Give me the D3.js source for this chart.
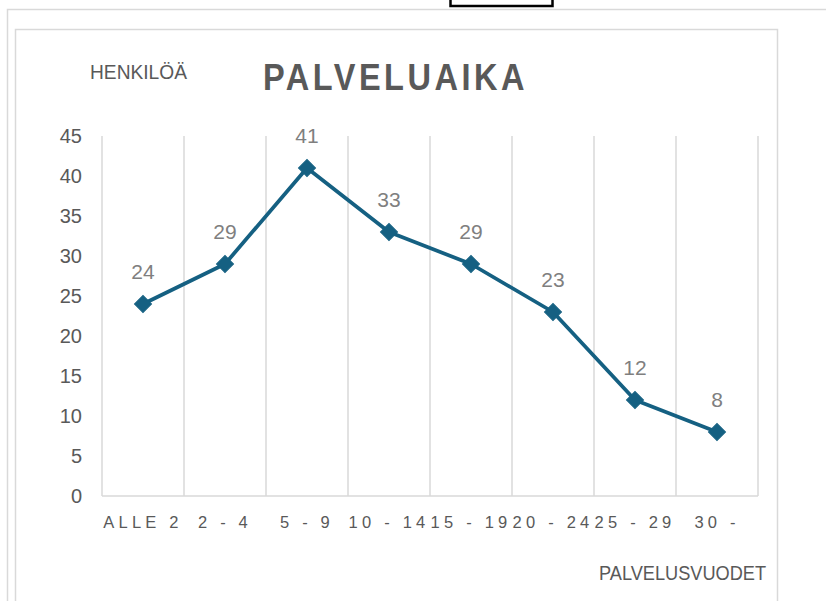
<!DOCTYPE html>
<html>
<head>
<meta charset="utf-8">
<script src="https://cdn.jsdelivr.net/npm/d3@7"></script>
<style>
  body { margin: 0; background: #fff; }
  svg text { font-family: "Liberation Sans", Arial, sans-serif; }
</style>
</head>
<body>
<div id="chart"></div>
<script>
// data
var categories = ["ALLE 2", "2 - 4", "5 - 9", "10 - 14", "15 - 19", "20 - 24", "25 - 29", "30 -"];
var henkilot = [24, 29, 41, 33, 29, 23, 12, 8];
var yTicks = [0, 5, 10, 15, 20, 25, 30, 35, 40, 45];

var width = 826, height = 601;
var lineColor = "#156082";
var gridColor = "#d9d9d9";
var textColor = "#595959";

var svg = d3.select("#chart")
  .append("svg")
  .attr("width", width)
  .attr("height", height);

// frames (outer sheet border, chart area border, little selection box on top)
svg.append("rect")
  .attr("x", 7.5).attr("y", 9.5)
  .attr("width", 840).attr("height", 620)
  .attr("fill", "none").attr("stroke", gridColor).attr("stroke-width", 1.5);

svg.append("rect")
  .attr("x", 15.5).attr("y", 29.5)
  .attr("width", 762).attr("height", 600)
  .attr("fill", "none").attr("stroke", gridColor).attr("stroke-width", 1.5);

svg.append("rect")
  .attr("x", 450.5).attr("y", -5)
  .attr("width", 102).attr("height", 11)
  .attr("fill", "#fff").attr("stroke", "#000").attr("stroke-width", 2.5);

// scales
var x = d3.scaleBand().domain(categories).range([102, 758]);
var y = d3.scaleLinear().domain([0, 45]).range([496, 136]);

// vertical separators between categories
var bounds = categories.map(function(c) { return x(c); }).concat([x.range()[1]]);
svg.selectAll(".sep")
  .data(bounds)
  .enter()
  .append("line")
  .attr("class", "sep")
  .attr("x1", function(d) { return d; })
  .attr("x2", function(d) { return d; })
  .attr("y1", y(45))
  .attr("y2", y(0))
  .attr("stroke", gridColor)
  .attr("stroke-width", 1.5);

// category axis line
svg.append("line")
  .attr("x1", x.range()[0]).attr("x2", x.range()[1])
  .attr("y1", y(0)).attr("y2", y(0))
  .attr("stroke", gridColor).attr("stroke-width", 1.5);

// y axis labels
var yAxis = svg.append("g")
  .attr("transform", "translate(" + x.range()[0] + ",0)")
  .call(d3.axisLeft(y).tickValues(yTicks).tickSize(0).tickPadding(20));
yAxis.select(".domain").remove();
yAxis.selectAll("text")
  .attr("fill", textColor)
  .style("font-family", "'Liberation Sans', Arial, sans-serif")
  .style("font-size", "20px");

// x axis labels
var xAxis = svg.append("g")
  .attr("transform", "translate(0," + y(0) + ")")
  .call(d3.axisBottom(x).tickSize(0).tickPadding(20));
xAxis.select(".domain").remove();
xAxis.selectAll("text")
  .attr("fill", textColor)
  .style("font-size", "16.5px")
  .style("letter-spacing", "4.2px");

// line
var line = d3.line()
  .x(function(d, i) { return x(categories[i]) + x.bandwidth() / 2; })
  .y(function(d) { return y(d); });

svg.append("path")
  .datum(henkilot)
  .attr("d", line)
  .attr("fill", "none")
  .attr("stroke", lineColor)
  .attr("stroke-width", 3.75)
  .attr("stroke-linejoin", "round");

// diamond markers
svg.selectAll(".marker")
  .data(henkilot)
  .enter()
  .append("path")
  .attr("class", "marker")
  .attr("d", d3.symbol(d3.symbolSquare, 144))
  .attr("transform", function(d, i) {
    return "translate(" + (x(categories[i]) + x.bandwidth() / 2) + "," + y(d) + ") rotate(45)";
  })
  .attr("fill", lineColor)
  .attr("stroke", lineColor)
  .attr("stroke-width", 1);

// value labels
svg.selectAll(".val")
  .data(henkilot)
  .enter()
  .append("text")
  .attr("class", "val")
  .attr("x", function(d, i) { return x(categories[i]) + x.bandwidth() / 2; })
  .attr("y", function(d) { return y(d) - 25; })
  .attr("text-anchor", "middle")
  .attr("fill", "#7f7f7f")
  .style("font-size", "21px")
  .text(function(d) { return d; });

// titles
svg.append("text")
  .attr("x", 263).attr("y", 90)
  .attr("textLength", 265)
  .attr("lengthAdjust", "spacingAndGlyphs")
  .attr("fill", textColor)
  .style("font-size", "37px")
  .style("font-weight", "bold")
  .style("letter-spacing", "4px")
  .text("PALVELUAIKA");

svg.append("text")
  .attr("x", 90).attr("y", 79)
  .attr("textLength", 97)
  .attr("lengthAdjust", "spacingAndGlyphs")
  .attr("fill", textColor)
  .style("font-size", "20px")
  .text("HENKILÖÄ");

svg.append("text")
  .attr("x", 599).attr("y", 580)
  .attr("textLength", 167)
  .attr("lengthAdjust", "spacingAndGlyphs")
  .attr("fill", textColor)
  .style("font-size", "20px")
  .text("PALVELUSVUODET");
</script>
</body>
</html>
